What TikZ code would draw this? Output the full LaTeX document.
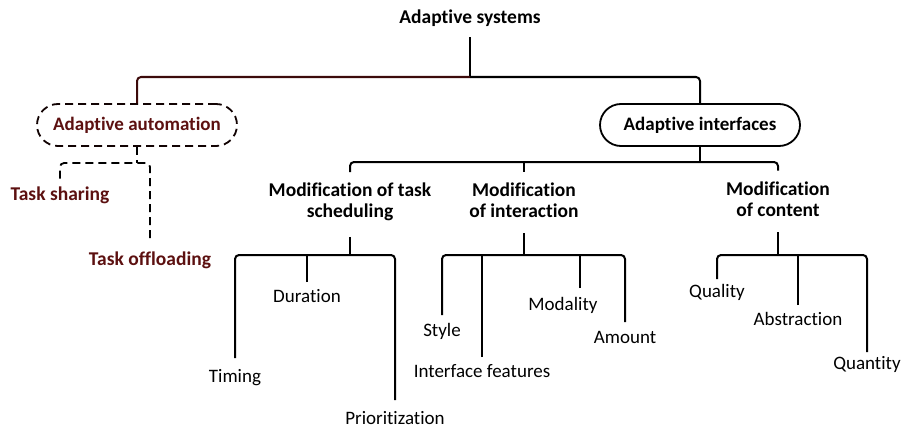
\documentclass[tikz,border=0pt]{standalone}
\usepackage{fontspec}
\setmainfont{Carlito}[Ligatures={NoCommon}]
\usetikzlibrary{positioning,calc}
\definecolor{autored}{RGB}{92,16,16}
\definecolor{barred}{RGB}{60,10,10}

\begin{document}
\begin{tikzpicture}[x=1pt,y=-1pt,line width=2pt,font=\fontsize{19}{21}\selectfont]
  \tikzstyle{head}=[font=\fontsize{19.5}{21}\selectfont\bfseries,align=center,inner sep=2pt]
  \tikzstyle{leaf}=[inner sep=2pt,text height=13pt,text depth=4pt,outer sep=6.5pt]
  \tikzstyle{pill}=[draw,rounded corners=21pt,minimum width=200pt,minimum height=42pt,line width=1.8pt]
  \tikzstyle{dashline}=[dash pattern=on 8pt off 5pt,line width=1.8pt]
  \tikzstyle{bar}=[rounded corners=4pt]
  \useasboundingbox (0,0) rectangle (902,428);

  % root and first level
  \node[head] (sys) at (470,18) {Adaptive systems};
  \node[pill,dashline,draw=black!80!autored,font=\fontsize{19}{21}\selectfont\bfseries,text=autored] (auto) at (137,125) {Adaptive automation};
  \node[pill,font=\fontsize{19}{21}\selectfont\bfseries] (intf) at (700,125) {Adaptive interfaces};

  % adaptive automation
  \node[head,text=autored,outer sep=6pt] (share) at (60,195) {Task sharing};
  \node[head,text=autored,outer sep=8pt] (offl) at (150,260) {Task offloading};

  % adaptive interfaces
  \node[head] (sched) at (350,202) {Modification of task\\scheduling};
  \node[head] (inter) at (524,200) {Modification\\of interaction};
  \node[head] (cont) at (778,199) {Modification\\of content};

  \node[leaf,outer sep=9.5pt] (timing) at (235,378) {Timing};
  \node[leaf,outer sep=5.5pt] (dur) at (307,298) {Duration};
  \node[leaf,outer sep=9.5pt] (prio) at (395,420) {Prioritization};

  \node[leaf] (style) at (442,332) {Style};
  \node[leaf,outer sep=5.5pt] (feat) at (482,373) {Interface features};
  \node[leaf,outer sep=7.5pt] (moda) at (563,306) {Modality};
  \node[leaf] (amount) at (625,339) {Amount};

  \node[leaf,outer sep=3.5pt] (qual) at (717,293) {Quality};
  \node[leaf,outer sep=5.5pt] (abst) at (798,321) {Abstraction};
  \node[leaf,outer sep=2.5pt] (quan) at (867,365) {Quantity};

  % junctions
  \coordinate (j0) at (470,77);
  \coordinate (j1) at (700,162);
  \coordinate (j2) at (137,163);
  \coordinate (j3) at (350,255);
  \coordinate (j4) at (524,255);
  \coordinate (j5) at (778,255);

  % connectors
  \draw[shorten <=8pt] (sys) -- (j0);
  \draw[bar,barred] (j0) -| (auto.north);
  \draw[bar] (j0) -| (intf.north);

  \draw[dashline] (auto) -- (j2);
  \draw[dashline,bar] (share) |- (j2) -| (offl);

  \draw (intf) -- (j1);
  \draw[bar,shorten <=8pt,shorten >=8pt] (sched.north) |- (j1) -| (cont.north);
  \draw[shorten <=8pt] (inter.north) -- (inter.north |- j1);

  \draw[shorten <=13pt] (sched) -- (j3);
  \draw[bar] (timing) |- (j3) -| (prio);
  \draw (dur) -- (dur |- j3);

  \draw[shorten <=13pt] (inter) -- (j4);
  \draw[bar] (style) |- (j4) -| (amount);
  \draw (feat) -- (feat |- j4);
  \draw ([xshift=17pt]moda.north) -- ([xshift=17pt]moda.north |- j4);

  \draw[shorten <=13pt] (cont) -- (j5);
  \draw[bar] (qual) |- (j5) -| (quan);
  \draw (abst.north) -- (abst.north |- j5);
\end{tikzpicture}
\end{document}
